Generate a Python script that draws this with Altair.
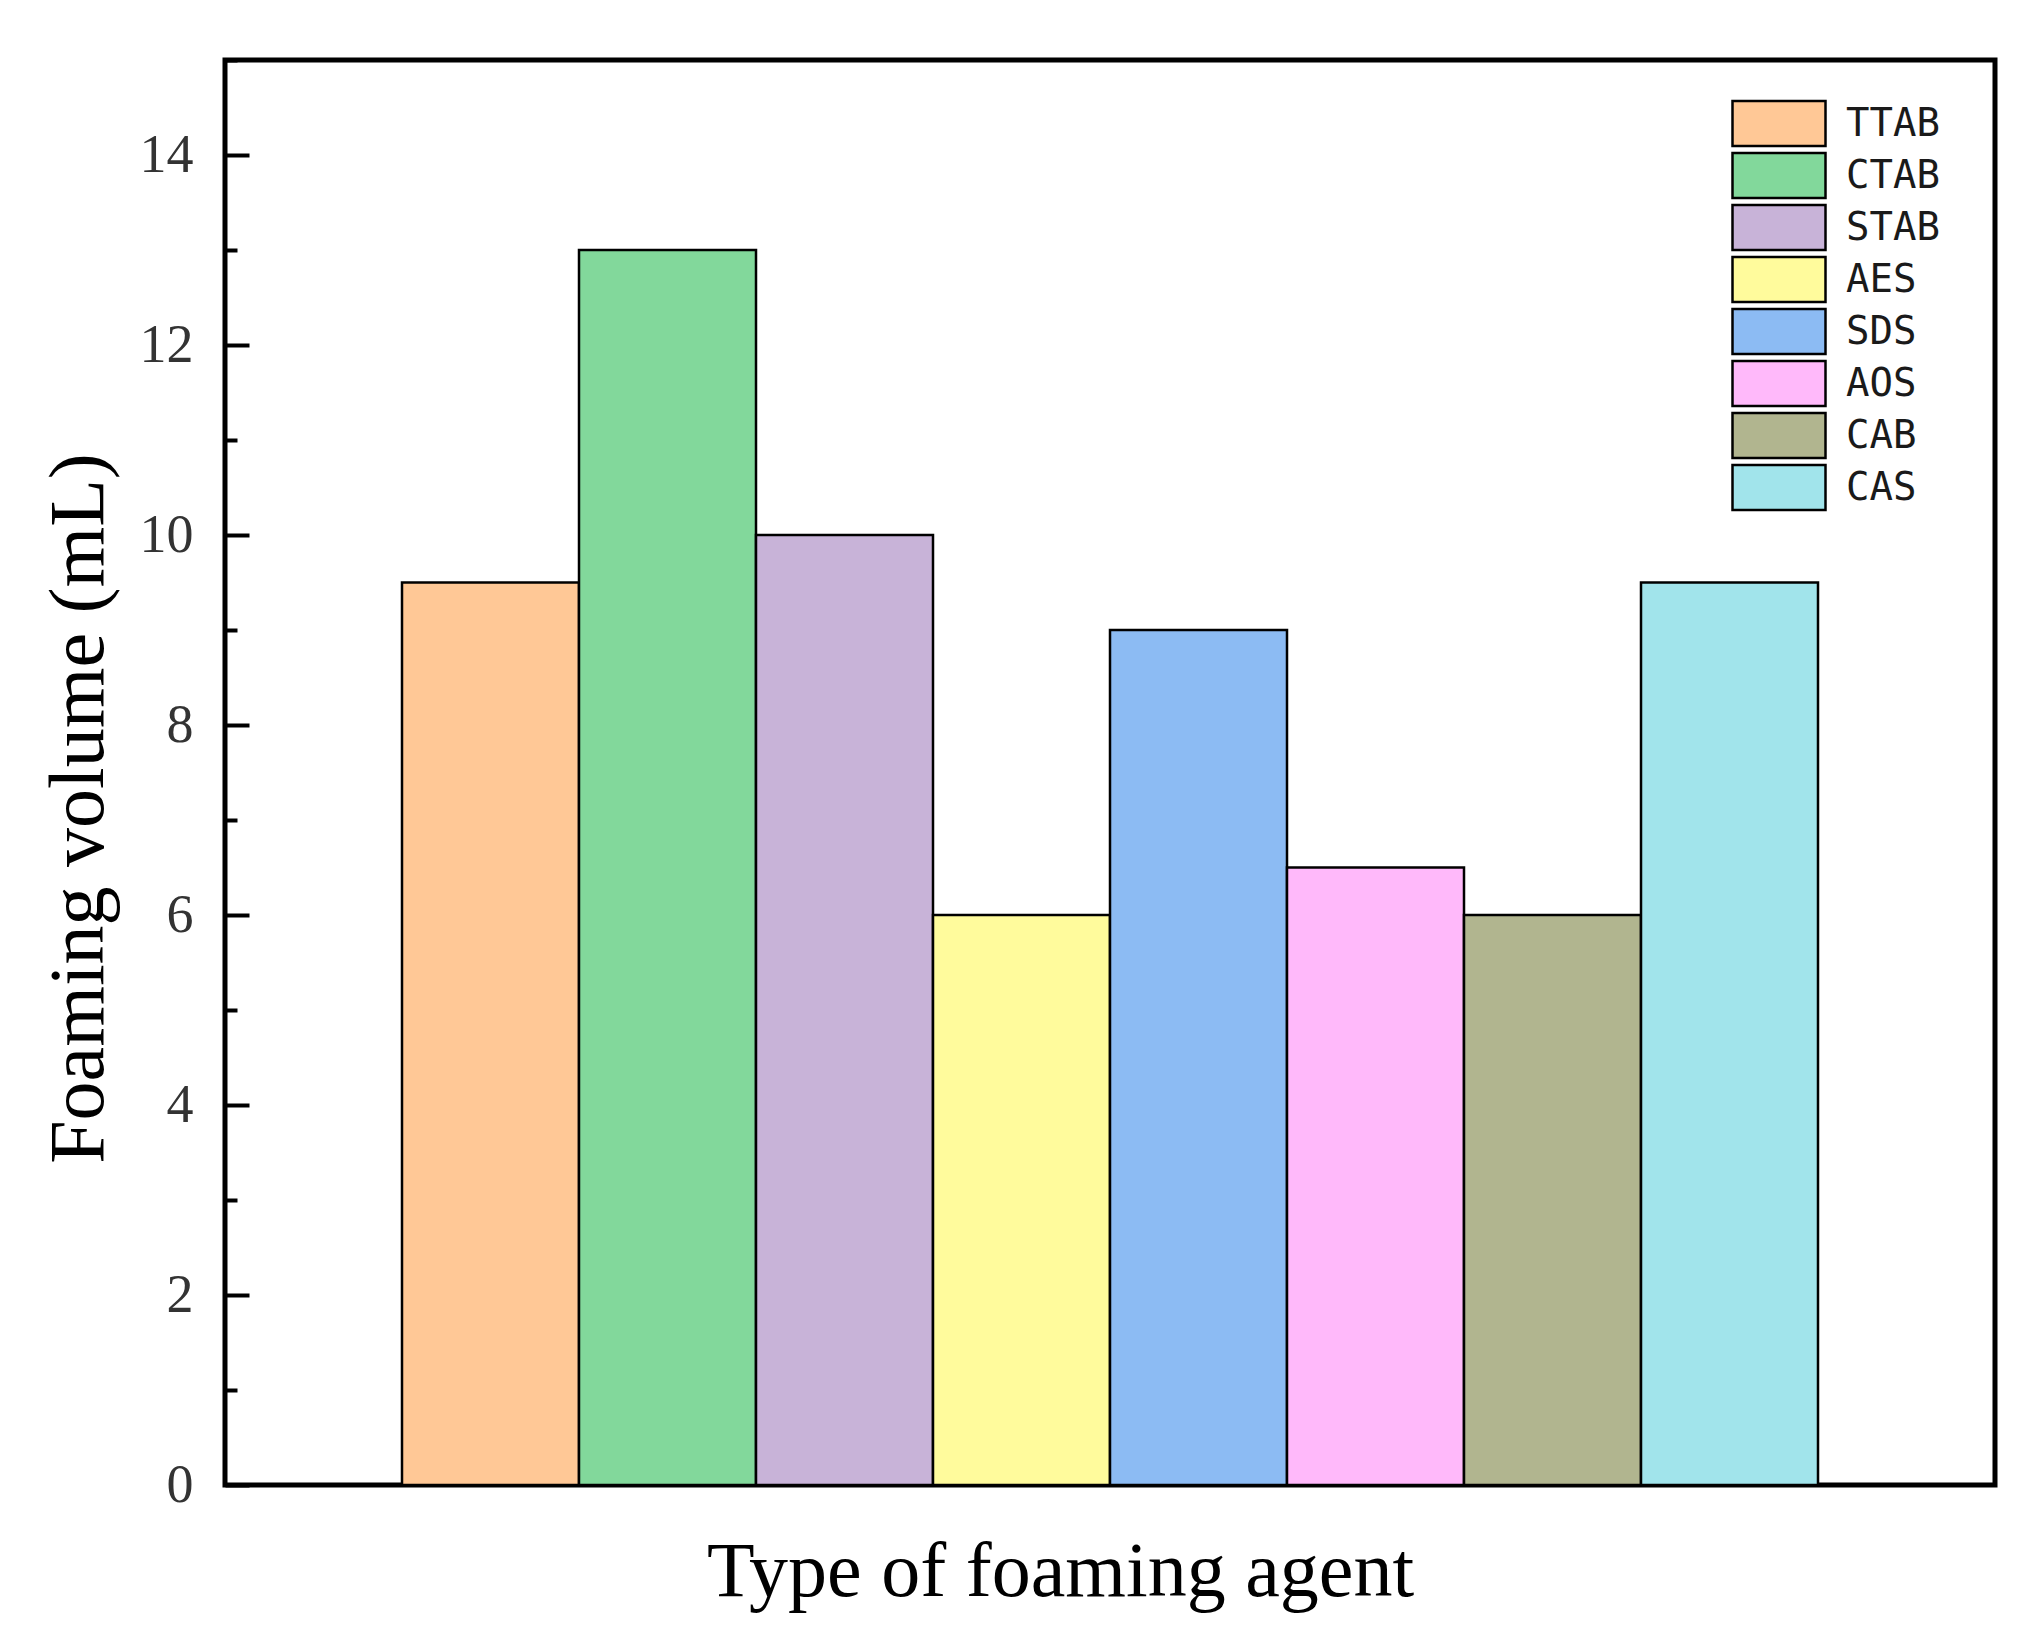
import altair as alt
import pandas as pd

# ---- data ----
agents = ["TTAB", "CTAB", "STAB", "AES", "SDS", "AOS", "CAB", "CAS"]
volumes = [9.5, 13.0, 10.0, 6.0, 9.0, 6.5, 6.0, 9.5]
colors = ["#FFC896", "#82D89B", "#C8B3D8", "#FFFB9C", "#8CBBF3", "#FFB9FA", "#B1B58F", "#A1E4EB"]
major_ticks = [0, 2, 4, 6, 8, 10, 12, 14]
all_ticks = list(range(0, 16))
y_domain = [0, 15]

df = pd.DataFrame({"agent": agents, "volume": volumes})

W, H = 1770, 1425
SERIF = "Liberation Serif"

y_scale = alt.Scale(domain=y_domain, nice=False, zero=True)

bars = alt.Chart(df).mark_bar(stroke="black", strokeWidth=2.5, opacity=1).encode(
    x=alt.X(
        "agent:N",
        sort=agents,
        scale=alt.Scale(paddingInner=0, paddingOuter=1),
        axis=alt.Axis(
            title="Type of foaming agent",
            labels=False, ticks=False, domain=False, grid=False,
            titleFont=SERIF, titleFontSize=78, titleFontWeight="normal",
            titleColor="black", titleX=835, titleY=110,
            titleBaseline="alphabetic", titleAlign="center",
        ),
    ),
    y=alt.Y(
        "volume:Q",
        scale=y_scale,
        axis=alt.Axis(
            title="Foaming volume (mL)",
            values=major_ticks, ticks=False, domain=False, grid=False,
            labelFont=SERIF, labelFontSize=54, labelColor="#333333",
            labelPadding=32, labelFontWeight="normal",
            titleFont=SERIF, titleFontSize=78, titleFontWeight="normal",
            titleColor="black", titleX=-146, titleY=748, titleAngle=-90,
            titleBaseline="middle", titleAlign="center",
        ),
    ),
    color=alt.Color(
        "agent:N",
        sort=agents,
        scale=alt.Scale(domain=agents, range=colors),
        legend=alt.Legend(
            title=None, orient="none", legendX=1534.5, legendY=44,
            symbolType="M-4,-1.936L4,-1.936L4,1.936L-4,1.936Z",
            symbolSize=540.6, symbolStrokeColor="black", symbolStrokeWidth=2.5,
            symbolOpacity=1, labelFont="DejaVu Sans Mono", labelFontSize=39,
            labelColor="#1a1a1a", labelOffset=47.6, rowPadding=-5, padding=0,
        ),
    ),
)

tick_layer = alt.Chart(df).mark_point(opacity=0).encode(
    y=alt.Y(
        "volume:Q",
        scale=y_scale,
        axis=alt.Axis(
            orient="right", offset=-W, values=all_ticks, labels=False,
            domain=False, grid=False, title=None, tickColor="black", tickWidth=4,
            tickSize={"condition": {"test": "datum.value % 2 === 0", "value": 24}, "value": 12},
        ),
    ),
)

chart = (
    alt.layer(bars, tick_layer)
    .resolve_axis(y="independent")
    .properties(
        width=W, height=H,
        padding={"left": 217, "top": 52, "right": 36, "bottom": 150},
        autosize=alt.AutoSizeParams(type="none"),
        background="white",
    )
    .configure_view(stroke="black", strokeWidth=5)
)

chart.save("out.html", embed_options={"renderer": "svg", "actions": False})
